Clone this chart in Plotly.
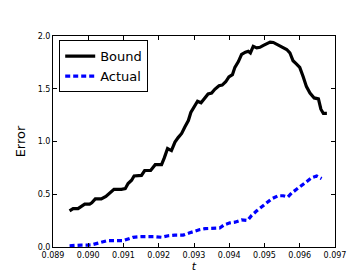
import plotly.graph_objects as go

bound_t = [0.08947, 0.08957, 0.08971, 0.08982, 0.0899, 0.09004, 0.0901, 0.0902, 0.09037, 0.0905,
           0.0906, 0.09073, 0.09094, 0.09105, 0.09113, 0.09123, 0.0913, 0.09151, 0.0916, 0.09177,
           0.0919, 0.09208, 0.09216, 0.09225, 0.09236, 0.09246, 0.09255, 0.09265, 0.09274, 0.09284,
           0.09291, 0.09303, 0.0931, 0.0932, 0.09331, 0.0934, 0.0935, 0.09359, 0.09371, 0.0938,
           0.0939, 0.09399, 0.09409, 0.09416, 0.09426, 0.09435, 0.09446, 0.09454, 0.0946, 0.09468,
           0.09478, 0.09487, 0.09497, 0.09506, 0.09516, 0.09525, 0.09537, 0.09549, 0.09563, 0.09572,
           0.09581, 0.09591, 0.0960, 0.0961, 0.09619, 0.09629, 0.09641, 0.09653, 0.0966, 0.09667, 0.09677]
bound_err = [0.343, 0.364, 0.364, 0.388, 0.407, 0.407, 0.419, 0.456, 0.456, 0.48,
             0.51, 0.547, 0.547, 0.553, 0.602, 0.633, 0.673, 0.679, 0.725, 0.725,
             0.78, 0.78, 0.847, 0.933, 0.914, 0.994, 1.037, 1.076, 1.138, 1.199,
             1.275, 1.336, 1.382, 1.367, 1.413, 1.45, 1.459, 1.495, 1.529, 1.535,
             1.566, 1.612, 1.633, 1.703, 1.758, 1.826, 1.847, 1.856, 1.84, 1.902,
             1.887, 1.893, 1.911, 1.923, 1.942, 1.939, 1.917, 1.902, 1.872, 1.841,
             1.765, 1.734, 1.703, 1.612, 1.52, 1.459, 1.413, 1.404, 1.306, 1.266, 1.266]

actual_t = [0.08947, 0.08962, 0.0898, 0.08999, 0.0901, 0.09028, 0.09047, 0.09056, 0.09075, 0.09099,
            0.09113, 0.09127, 0.09151, 0.0917, 0.09189, 0.09208, 0.09227, 0.09246, 0.09269, 0.09288,
            0.09302, 0.09317, 0.09331, 0.09345, 0.09364, 0.09373, 0.09386, 0.09402, 0.09416, 0.09435,
            0.09452, 0.09463, 0.09478, 0.09492, 0.09506, 0.0952, 0.09539, 0.09553, 0.09566, 0.09577,
            0.09591, 0.09605, 0.09619, 0.09634, 0.09648, 0.09662]
actual_err = [0.012, 0.018, 0.018, 0.018, 0.02, 0.037, 0.052, 0.061, 0.061, 0.061,
              0.076, 0.092, 0.098, 0.101, 0.098, 0.092, 0.107, 0.113, 0.113, 0.135,
              0.153, 0.165, 0.174, 0.177, 0.177, 0.18, 0.211, 0.229, 0.235, 0.257,
              0.251, 0.297, 0.343, 0.382, 0.425, 0.456, 0.486, 0.486, 0.474, 0.511,
              0.547, 0.578, 0.618, 0.657, 0.673, 0.648]

x_ticks = [0.089, 0.090, 0.091, 0.092, 0.093, 0.094, 0.095, 0.096, 0.097]
y_ticks = [0.0, 0.5, 1.0, 1.5, 2.0]

fig = go.Figure()
fig.add_trace(go.Scatter(x=bound_t, y=bound_err, mode="lines", name="Bound",
                         line=dict(color="black", width=3.2)))
fig.add_trace(go.Scatter(x=actual_t, y=actual_err, mode="lines", name="Actual",
                         line=dict(color="#0000ff", width=3.2, dash="5px,3px")))

font = "DejaVu Sans"
fig.update_layout(
    width=363, height=273,
    margin=dict(l=45, r=36, t=28, b=27),
    plot_bgcolor="white", paper_bgcolor="white",
    font=dict(family=font, color="black", size=8),
    legend=dict(x=0.022, y=0.98, xanchor="left", yanchor="top",
                bordercolor="black", borderwidth=1, bgcolor="white",
                font=dict(size=13, family=font), itemwidth=30,
                tracegroupgap=0),
    xaxis=dict(range=[0.089, 0.097], tickvals=x_ticks, tickformat=".3f",
               showline=True, linecolor="black", linewidth=1, mirror="ticks",
               ticks="inside", ticklen=4, tickcolor="black", showgrid=False, zeroline=False,
               title=dict(text="<i>t</i>", font=dict(size=11, family=font), standoff=2)),
    yaxis=dict(range=[0, 2.0], tickvals=y_ticks, tickformat=".1f",
               showline=True, linecolor="black", linewidth=1, mirror="ticks",
               ticks="inside", ticklen=4, tickcolor="black", showgrid=False, zeroline=False,
               title=dict(text="Error", font=dict(size=13, family=font), standoff=9)),
    showlegend=True,
)

fig.write_html("out.html")
